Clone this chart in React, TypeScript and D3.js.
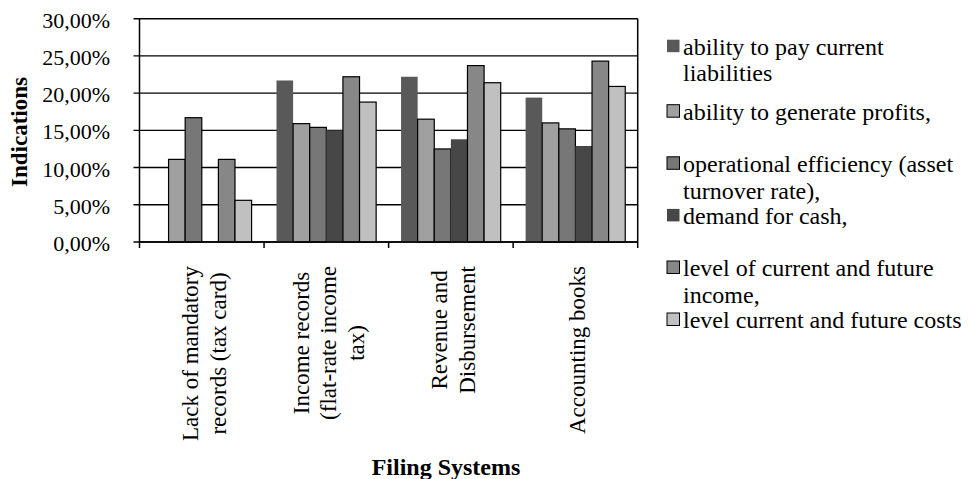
import React, { useEffect, useRef } from "react";
import * as d3 from "d3";

const categoryLines: string[][] = [
  ["Lack of mandatory", "records (tax card)"],
  ["Income records", "(flat-rate income", "tax)"],
  ["Revenue and", "Disbursement"],
  ["Accounting books"],
];
const categories = categoryLines.map((l) => l.join(" "));

const seriesLines: string[][] = [
  ["ability to pay current", "liabilities"],
  ["ability to generate profits,"],
  ["operational efficiency (asset", "turnover rate),"],
  ["demand for cash,"],
  ["level of current and future", "income,"],
  ["level current and future costs"],
];
const seriesNames = seriesLines.map((l) => l.join(" "));

const payLiabilities = [0, 21.7, 22.2, 19.4];
const generateProfits = [11.1, 15.9, 16.5, 16.0];
const operationalEfficiency = [16.7, 15.4, 12.5, 15.2];
const demandForCash = [0, 15.0, 13.8, 12.9];
const currentFutureIncome = [11.1, 22.2, 23.7, 24.3];
const currentFutureCosts = [5.6, 18.8, 21.4, 20.9];
const seriesValues = [
  payLiabilities,
  generateProfits,
  operationalEfficiency,
  demandForCash,
  currentFutureIncome,
  currentFutureCosts,
];

const yTicks = [0, 5, 10, 15, 20, 25, 30];

const colors = ["#595959", "#a0a0a0", "#777777", "#474747", "#878787", "#c0c0c0"];
const bordered = [false, true, true, false, true, true];
const legendFirstLineY = [46.7, 111.7, 163.8, 215.9, 268, 320];

const FONT = "Liberation Serif, Times New Roman, Times, Tinos, Nimbus Roman, serif";

export default function App() {
  const ref = useRef<SVGSVGElement>(null);
  useEffect(() => {
    const svg = d3.select(ref.current);
    svg.selectAll("*").remove();
    const left = 139.5, right = 637.7, top = 18.7, bottom = 242;

    const x = d3.scaleBand<string>().domain(categories).range([left, right]).padding(0);
    const xs = d3
      .scaleBand<string>()
      .domain(seriesNames)
      .range([0, x.bandwidth()])
      .paddingInner(0)
      .paddingOuter(0.75);
    const y = d3.scaleLinear().domain([0, 30]).range([bottom, top]);

    const g = svg.append("g").style("font-family", FONT);

    // gridlines
    g.selectAll("line.grid")
      .data(yTicks)
      .enter()
      .append("line")
      .attr("x1", left - 6)
      .attr("x2", right)
      .attr("y1", (d) => y(d))
      .attr("y2", (d) => y(d))
      .attr("stroke", "#000")
      .attr("stroke-width", 1.4);

    // y tick labels
    g.selectAll("text.ytick")
      .data(yTicks)
      .enter()
      .append("text")
      .attr("x", 110)
      .attr("y", (d) => y(d) + 9)
      .attr("text-anchor", "end")
      .attr("font-size", 22)
      .text((d) => d.toFixed(2).replace(".", ",") + "%");

    // bars
    seriesValues.forEach((vals, si) => {
      g.selectAll(`rect.s${si}`)
        .data(vals)
        .enter()
        .append("rect")
        .attr("x", (_, i) => (x(categories[i]) as number) + (xs(seriesNames[si]) as number))
        .attr("width", xs.bandwidth())
        .attr("y", (d) => y(d))
        .attr("height", (d) => bottom - y(d))
        .attr("fill", colors[si])
        .attr("stroke", bordered[si] ? "#000" : "none")
        .attr("stroke-width", 1.2)
        .style("display", (d) => (d > 0 ? null : "none"));
    });

    // plot frame
    g.append("line").attr("x1", left).attr("x2", left).attr("y1", top).attr("y2", bottom + 6)
      .attr("stroke", "#000").attr("stroke-width", 1.5);
    g.append("line").attr("x1", right).attr("x2", right).attr("y1", top).attr("y2", bottom + 6)
      .attr("stroke", "#000").attr("stroke-width", 1.5);
    g.append("line").attr("x1", left).attr("x2", right).attr("y1", bottom).attr("y2", bottom)
      .attr("stroke", "#000").attr("stroke-width", 1.5);
    categories.slice(1).forEach((c) => {
      const xx = x(c) as number;
      g.append("line").attr("x1", xx).attr("x2", xx).attr("y1", bottom).attr("y2", bottom + 6)
        .attr("stroke", "#000").attr("stroke-width", 1.5);
    });

    // category labels
    categoryLines.forEach((lines, ci) => {
      const cx = (x(categories[ci]) as number) + x.bandwidth() / 2;
      const grp = g.append("g");
      const texts = lines.map((ln) =>
        grp.append("text").attr("font-size", 23).attr("text-anchor", "middle").text(ln)
      );
      const maxW = Math.max(...texts.map((t) => (t.node() as SVGTextElement).getComputedTextLength()));
      const cy = 266 + maxW / 2;
      texts.forEach((t, li) => {
        const lx = cx + (li - (lines.length - 1) / 2) * 27.6 + 10;
        t.attr("transform", `translate(${lx},${cy}) rotate(-90)`);
      });
    });

    // axis titles
    g.append("text")
      .attr("transform", `translate(27,132) rotate(-90)`)
      .attr("text-anchor", "middle")
      .attr("font-weight", "bold")
      .attr("font-size", 23)
      .text("Indications");
    g.append("text")
      .attr("x", 446)
      .attr("y", 475)
      .attr("text-anchor", "middle")
      .attr("font-weight", "bold")
      .attr("font-size", 24)
      .text("Filing Systems");

    // legend
    seriesLines.forEach((lines, si) => {
      const ly = legendFirstLineY[si];
      g.append("rect")
        .attr("x", 667)
        .attr("y", ly - 7)
        .attr("width", 12.5)
        .attr("height", 12.5)
        .attr("fill", colors[si])
        .attr("stroke", bordered[si] ? "#000" : "none")
        .attr("stroke-width", 1);
      lines.forEach((ln, li) => {
        g.append("text")
          .attr("x", 683)
          .attr("y", ly + li * 26.7 + 8)
          .attr("font-size", 24)
          .text(ln);
      });
    });
  }, []);
  return (
    <svg
      ref={ref}
      width={968}
      height={479}
      style={{ position: "absolute", left: 0, top: 0, background: "#fff" }}
    />
  );
}
